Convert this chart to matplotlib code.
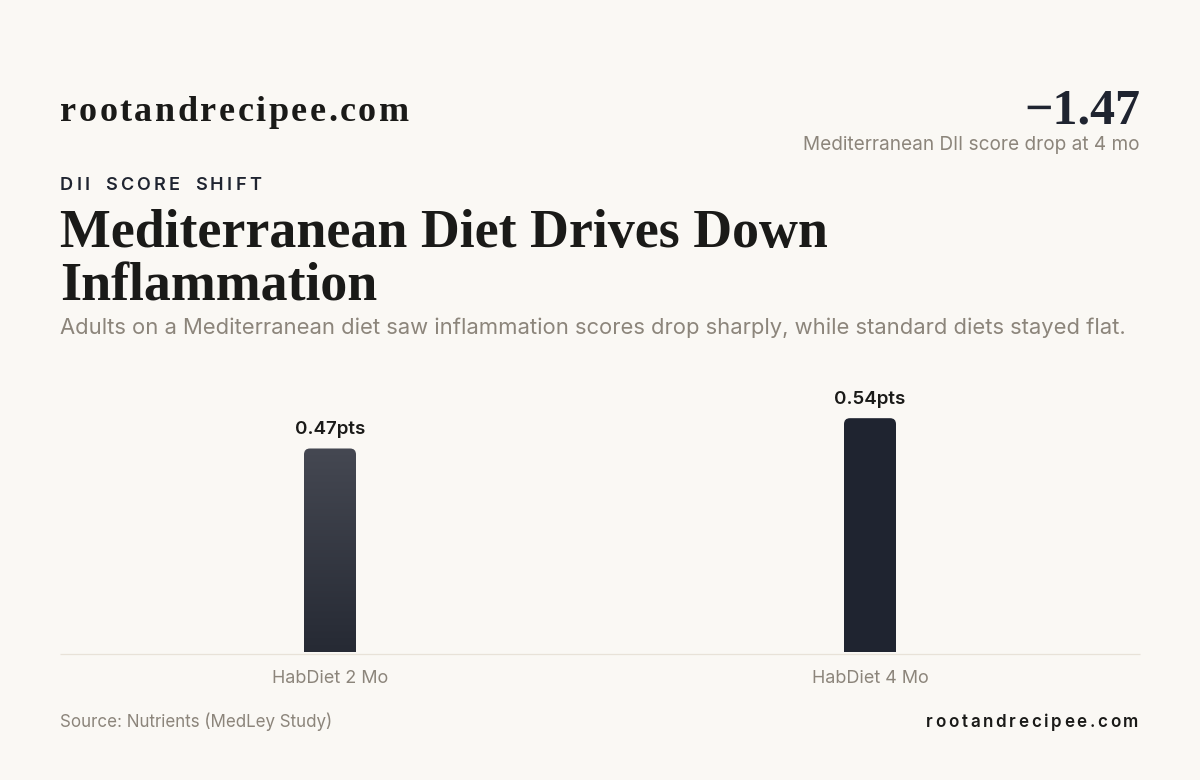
import numpy as np
import matplotlib
matplotlib.use("Agg")
import matplotlib.pyplot as plt
from matplotlib.patches import PathPatch
from matplotlib.path import Path
from matplotlib.colors import LinearSegmentedColormap

categories = ["HabDiet 2 Mo", "HabDiet 4 Mo"]
values = [0.47, 0.54]
value_labels = ["0.47pts", "0.54pts"]

BG = "#FAF8F4"
INK = "#1F2430"
DARK = "#1A1A18"
MUTED = "#8C857B"
W, H = 1200, 780
SERIF = "Liberation Serif"

plt.rcParams["font.family"] = ["Inter", "DejaVu Sans"]
fig = plt.figure(figsize=(W / 100, H / 100), dpi=100, facecolor=BG)

def px_text(x, y, s, size, color, family="Inter", weight="normal", ha="left", spacing=0):
    if spacing == 0:
        return fig.text(x / W, 1 - y / H, s, fontsize=size, color=color, family=family,
                        weight=weight, ha=ha, va="baseline")
    #letter spaced text, one char at a time
    r = fig.canvas.get_renderer()
    widths = []
    for ch in s:
        t = fig.text(0, 0, ch.replace(" ", "-"), fontsize=size, family=family, weight=weight)
        widths.append(t.get_window_extent(r).width + spacing)
        t.remove()
    cur = x - sum(widths) + spacing if ha == "right" else x
    for ch, wd in zip(s, widths):
        if ch != " ":
            fig.text(cur / W, 1 - y / H, ch, fontsize=size, color=color, family=family,
                     weight=weight, ha="left", va="baseline")
        cur += wd

px_text(60, 121, "rootandrecipee.com", 26, DARK, SERIF, "bold", spacing=2.5)
px_text(1140, 123, "−1.47", 36, INK, SERIF, "bold", ha="right")
px_text(1139.3, 150, "Mediterranean DII score drop at 4 mo", 13.68, MUTED, ha="right")
px_text(60, 190, "DII SCORE SHIFT", 13, INK, weight="semibold", spacing=3.35)
px_text(60, 247, "Mediterranean Diet Drives Down", 38.75, DARK, SERIF, "bold")
px_text(60, 301, "Inflammation", 38.75, DARK, SERIF, "bold")
px_text(60, 334.5, "Adults on a Mediterranean diet saw inflammation scores drop sharply, while standard diets stayed flat.", 15.84, MUTED)
px_text(60, 727, "Source: Nutrients (MedLey Study)", 12.24, MUTED)
px_text(1138, 727, "rootandrecipee.com", 12.24, DARK, weight="semibold", ha="right", spacing=2.62)

#axes span in pixels: bars stand on y=652, rule sits a little lower
ax_w, ax_h = 1080, 300
ax = fig.add_axes([60 / W, 1 - 652 / H, ax_w / W, ax_h / H])
ax.set_facecolor("none")
xlim = (-0.5, 1.5)
ylim = (0, ax_h / 433)
for s in ["top", "left", "right"]:
    ax.spines[s].set_visible(False)
ax.spines["bottom"].set_position(("outward", 1.4))
ax.spines["bottom"].set_color("#E8E2D8")
ax.spines["bottom"].set_linewidth(0.9)
ax.spines["bottom"].set_capstyle("butt")
ax.set_yticks([])
ax.set_xticks(range(len(categories)))
ax.set_xticklabels(categories, fontsize=12.96, color=MUTED)
ax.tick_params(axis="x", length=0, pad=11.7)

bar_w = 52 / 540
rx = 6 / 540
ry = 6 / 433

def top_round_bar(x0, x1, top):
    verts = [(x0, 0), (x0, top - ry), (x0, top), (x0 + rx, top), (x1 - rx, top),
             (x1, top), (x1, top - ry), (x1, 0), (x0, 0)]
    codes = [Path.MOVETO, Path.LINETO, Path.CURVE3, Path.CURVE3, Path.LINETO,
             Path.CURVE3, Path.CURVE3, Path.LINETO, Path.CLOSEPOLY]
    return Path(verts, codes)

grad_cmap = LinearSegmentedColormap.from_list("bar", ["#454852", "#262A34"])
for i, (v, lab) in enumerate(zip(values, value_labels)):
    x0, x1 = i - bar_w / 2, i + bar_w / 2
    if i == 0:
        patch = PathPatch(top_round_bar(x0, x1, v), fc="none", ec="none")
        ax.add_patch(patch)
        grad = np.linspace(0, 1, 256)[:, None]
        im = ax.imshow(grad, extent=(x0, x1, 0, v), cmap=grad_cmap, aspect="auto", origin="upper", zorder=2)
        im.set_clip_path(patch)
    else:
        ax.add_patch(PathPatch(top_round_bar(x0, x1, v), fc=INK, ec="none", zorder=2))
    ax.annotate(lab, (i, v), xytext=(0, 10.5), textcoords="offset pixels",
                ha="center", va="bottom", fontsize=13.5, weight="semibold", color=DARK)
ax.set_xlim(*xlim)
ax.set_ylim(*ylim)

fig.savefig("out.png", dpi=100, facecolor=BG)
